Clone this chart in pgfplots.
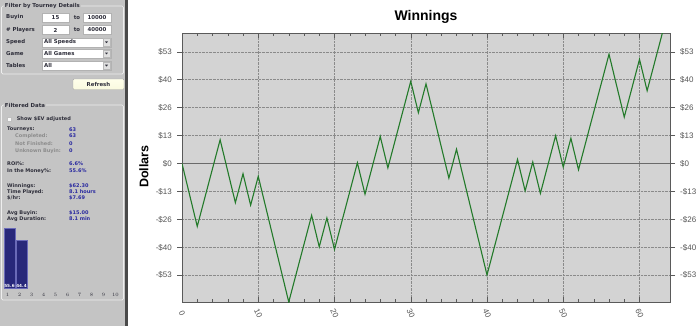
\documentclass[border=0pt]{standalone}
\usepackage{fontspec}
\setmainfont{Liberation Sans}
\newfontfamily\panelfont{DejaVu Sans}
\usepackage{pgfplots}
\pgfplotsset{compat=1.18}
\definecolor{panelbg}{HTML}{C4C4C4}
\definecolor{bandcol}{HTML}{4A4A4A}
\definecolor{boxline}{HTML}{EEEEEE}
\definecolor{plotbg}{HTML}{D3D3D3}
\definecolor{axiscol}{HTML}{5A5A5A}
\definecolor{gridcol}{HTML}{8A8A8A}
\definecolor{zerocol}{HTML}{6A6A6A}
\definecolor{labcol}{HTML}{555555}
\definecolor{linecol}{HTML}{237A2A}
\definecolor{txtdark}{HTML}{2E2E3A}
\definecolor{txtgray}{HTML}{8C8C8C}
\definecolor{valblue}{HTML}{2A2AA0}
\definecolor{barblue}{HTML}{28287A}
\definecolor{baredge}{HTML}{6A6AB8}
\newcommand\pf{\panelfont\bfseries\fontsize{5bp}{6bp}\selectfont}
\newcommand\pft{\panelfont\bfseries\fontsize{5.4bp}{6.5bp}\selectfont}
\newcommand\ptiny{\panelfont\bfseries\fontsize{4.2bp}{5bp}\selectfont}
\begin{document}
\begin{tikzpicture}
\begin{scope}[x=1bp,y=-1bp]
\path[use as bounding box] (0,0) rectangle (700,326);
\fill[white] (0,0) rectangle (700,326);
\fill[panelbg] (0,0) rectangle (125,326);
\fill[bandcol] (125,0) rectangle (128,326);
% group box 1
\draw[boxline, line width=0.7bp, rounded corners=1.5bp] (1.5,6) rectangle (123.5,74);
\node[fill=panelbg, inner sep=0.8bp, anchor=west, text=txtdark] at (4,6) {\pft Filter by Tourney Details};
\node[anchor=west, inner sep=0, text=txtdark] at (6,17.3) {\pft Buyin};
\node[anchor=west, inner sep=0, text=txtdark] at (6,30) {\pft \# Players};
\node[anchor=west, inner sep=0, text=txtdark] at (6,42.2) {\pft Speed};
\node[anchor=west, inner sep=0, text=txtdark] at (6,53.4) {\pft Game};
\node[anchor=west, inner sep=0, text=txtdark] at (6,65.5) {\pft Tables};
\filldraw[fill=white, draw=gray!60, line width=0.3bp] (42,12.8) rectangle (69,21.8);
\filldraw[fill=white, draw=gray!60, line width=0.3bp] (83,12.8) rectangle (111,21.8);
\filldraw[fill=white, draw=gray!60, line width=0.3bp] (42,25.5) rectangle (69,34.5);
\filldraw[fill=white, draw=gray!60, line width=0.3bp] (83,25.5) rectangle (111,34.5);
\node[inner sep=0, text=txtdark] at (55.5,17.3) {\pft 15};
\node[inner sep=0, text=txtdark] at (97,17.3) {\pft 10000};
\node[inner sep=0, text=txtdark] at (55.5,30) {\pft 2};
\node[inner sep=0, text=txtdark] at (97,30) {\pft 40000};
\node[inner sep=0, text=txtdark] at (77,17.3) {\pft to};
\node[inner sep=0, text=txtdark] at (77,30) {\pft to};
\foreach \yy/\tt in {42.2/All Speeds, 53.4/All Games, 65.5/All}{
  \filldraw[fill=white, draw=gray!60, line width=0.3bp] (42,\yy-4.5) rectangle (111,\yy+4.5);
  \filldraw[fill=gray!25, draw=gray!55, line width=0.3bp] (103,\yy-3.6) rectangle (110,\yy+3.6);
  \fill[txtdark] (105,\yy-0.8) -- (108,\yy-0.8) -- (106.5,\yy+1) -- cycle;
  \node[anchor=west, inner sep=0, text=txtdark] at (44,\yy) {\pft \tt};
}
% refresh button
\shade[top color=white!92!yellow, bottom color=gray!30!yellow!15, rounded corners=1bp] (73,79) rectangle (124,89.5);
\draw[gray!70, rounded corners=1bp, line width=0.4bp] (73,79) rectangle (124,89.5);
\node[inner sep=0, text=txtdark] at (98.5,84.2) {\pft Refresh};
% group box 2
\draw[boxline, line width=0.7bp, rounded corners=1.5bp] (1.5,105) rectangle (123.5,300);
\node[fill=panelbg, inner sep=0.8bp, anchor=west, text=txtdark] at (4,105) {\pft Filtered Data};
\filldraw[fill=white!95!gray, draw=gray!50, line width=0.3bp] (7.3,117) rectangle (11.5,121.2);
\node[anchor=west, inner sep=0, text=txtdark] at (16.7,119.1) {\pf Show \$EV adjusted};
\foreach \yy/\lx/\lab/\lc/\val in {
  129.3/7/Tourneys:/txtdark/63,
  136/15/Completed:/txtgray/63,
  143.3/15/Not Finished:/txtgray/0,
  150.7/15/Unknown Buyin:/txtgray/0,
  163.3/7/ROI\%:/txtdark/6.6\%,
  171/7/In the Money\%:/txtdark/55.6\%,
  185.7/7/Winnings:/txtdark/\$62.30,
  192/7/Time Played:/txtdark/8.1 hours,
  198.4/7/{\$/hr:}/txtdark/\$7.69,
  212.7/7/Avg Buyin:/txtdark/\$15.00,
  219/7/Avg Duration:/txtdark/8.1 min}{
  \node[anchor=west, inner sep=0, text=\lc] at (\lx,\yy) {\pf \lab};
  \node[anchor=west, inner sep=0, text=valblue] at (69,\yy) {\pf \val};
}
% title and y label
\node[anchor=base, inner sep=0] at (426,20.3) {\fontsize{14bp}{16bp}\selectfont\bfseries Winnings};
\node[rotate=90, inner sep=0] at (144,166.5) {\fontsize{12.5bp}{14bp}\selectfont\bfseries Dollars};
\end{scope}

% finishing positions bar chart
\begin{axis}[
  at={(3.5bp,-288bp)}, anchor=south west,
  scale only axis, width=120bp, height=60bp,
  xmin=0.5, xmax=10.5, ymin=0, ymax=55.6,
  axis line style={draw=none},
  ytick=\empty, xtick={1,...,10},
  major tick length=0pt, tick style={draw=none},
  xticklabel style={font=\ptiny, text=txtdark, anchor=center, inner sep=0pt, yshift=-7bp, xshift=-2bp},
  ybar, bar width=11bp, clip=false,
]
\addplot[fill=barblue, draw=baredge, line width=0.5bp] coordinates {(1,55.6) (2,44.4)};
\node[anchor=south, inner sep=0.6bp, text=white] at (axis cs:1,0) {\ptiny 55.6};
\node[anchor=south, inner sep=0.6bp, text=white] at (axis cs:2,0) {\ptiny 44.4};
\end{axis}

% main chart
\begin{axis}[
  at={(182bp,-302bp)}, anchor=south west,
  scale only axis, width=488bp, height=269bp,
  xmin=0, xmax=64, ymin=-66.1, ymax=62.3,
  axis background/.style={fill=plotbg},
  axis line style={axiscol, line width=0.6bp},
  xtick={0,10,...,60}, minor x tick num=4,
  ytick={-53.333,-40,-26.667,-13.333,0,13.333,26.667,40,53.333},
  yticklabels={-\$53,-\$40,-\$26,-\$13,\$0,\$13,\$26,\$40,\$53},
  minor y tick num=3,
  xtick align=inside, ytick align=outside,
  major tick length=5bp, minor tick length=3bp,
  every tick/.style={axiscol, line width=0.5bp},
  grid=major,
  major grid style={gridcol, densely dotted, line width=0.5bp},
  tick label style={font=\fontsize{8bp}{9bp}\selectfont, text=labcol},
  /pgf/number format/assume math mode=true,
  xticklabel style={yshift=-11.5bp, rotate=-65, anchor=center, inner sep=0pt},
  yticklabel style={inner sep=0pt, anchor=east, xshift=-5bp},
]
\draw[zerocol, line width=0.8bp] (axis cs:0,0) -- (axis cs:64,0);
\addplot[linecol, line width=1.1bp, mark=none] table {
x y
0 0
1 -15
2 -30
3 -16.22
4 -2.44
5 11.34
6 -3.66
7 -18.66
8 -4.88
9 -19.88
10 -6.10
11 -21.10
12 -36.10
13 -51.10
14 -66.10
15 -52.32
16 -38.54
17 -24.76
18 -39.76
19 -25.98
20 -40.98
21 -27.20
22 -13.42
23 0.36
24 -14.64
25 -0.86
26 12.92
27 -2.08
28 11.70
29 25.48
30 39.26
31 24.26
32 38.04
33 23.04
34 8.04
35 -6.96
36 6.82
37 -8.18
38 -23.18
39 -38.18
40 -53.18
41 -39.40
42 -25.62
43 -11.84
44 1.94
45 -13.06
46 0.72
47 -14.28
48 -0.50
49 13.28
50 -1.72
51 12.06
52 -2.94
53 10.84
54 24.62
55 38.40
56 52.18
57 37.18
58 22.18
59 35.96
60 49.74
61 34.74
62 48.52
63 62.30
};
\end{axis}

% right-hand tick labels
\begin{axis}[
  at={(182bp,-302bp)}, anchor=south west,
  scale only axis, width=488bp, height=269bp,
  xmin=0, xmax=64, ymin=-66.1, ymax=62.3,
  axis x line=none, axis y line*=right, y axis line style={draw=none},
  xtick=\empty,
  ytick={-53.333,-40,-26.667,-13.333,0,13.333,26.667,40,53.333},
  yticklabels={-\$53,-\$40,-\$26,-\$13,\$0,\$13,\$26,\$40,\$53},
  major tick length=0pt, tick style={draw=none},
  tick label style={font=\fontsize{8bp}{9bp}\selectfont, text=labcol},
  yticklabel style={inner sep=0pt, anchor=west, xshift=10bp},
]
\end{axis}
\end{tikzpicture}
\end{document}
